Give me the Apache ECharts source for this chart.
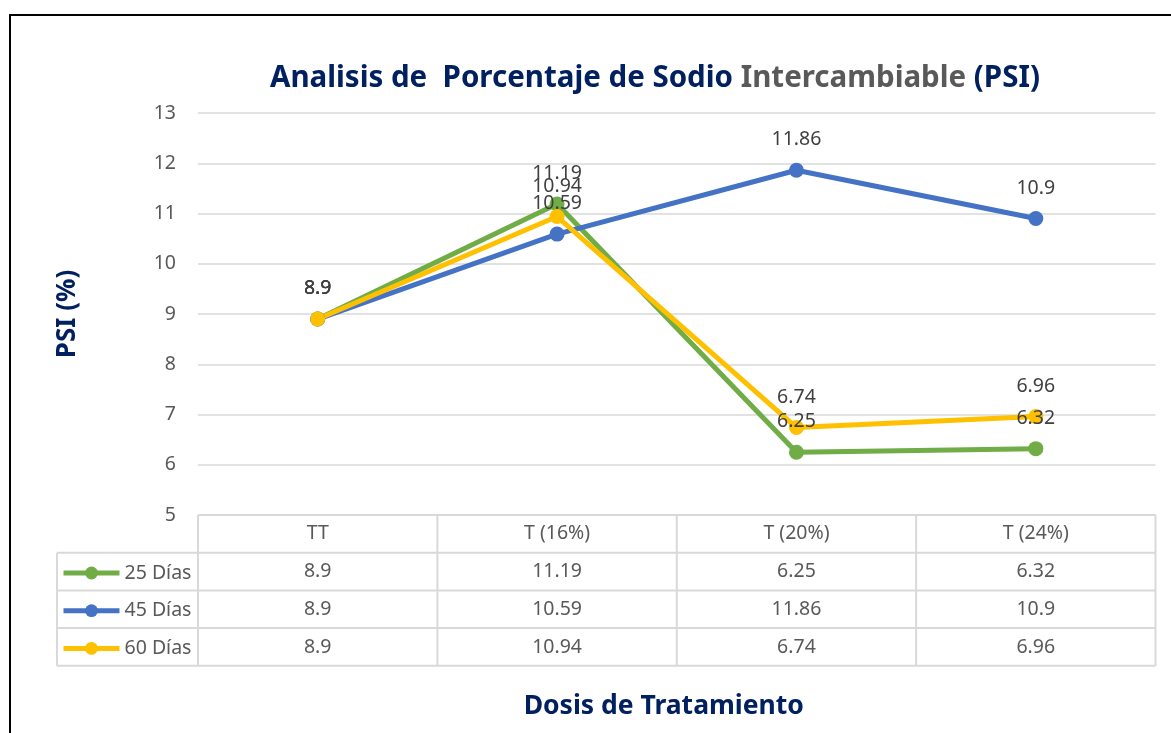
<!DOCTYPE html>
<html>
<head>
<meta charset="utf-8">
<title>PSI</title>
<script src="https://cdn.jsdelivr.net/npm/echarts@6/dist/echarts.min.js"></script>
<style>
  html, body { margin: 0; padding: 0; background: #fff; }
  #chart { width: 1171px; height: 733px; }
</style>
</head>
<body>
<div id="chart"></div>
<script>
// data
const categories = ['TT', 'T (16%)', 'T (20%)', 'T (24%)']
const seriesNames = ['25 Días', '45 Días', '60 Días']
const dias25 = [8.9, 11.19, 6.25, 6.32]
const dias45 = [8.9, 10.59, 11.86, 10.9]
const dias60 = [8.9, 10.94, 6.74, 6.96]
const yMin = 5
const yMax = 13
const yStep = 1

const colors = ['#70AD47', '#4472C4', '#FFC000']
const seriesData = [dias25, dias45, dias60]
const FONT = '"Noto Sans", sans-serif'
const NAVY = '#002060'
const GRAY = '#595959'
const ROW_H = 37.7
const TABLE_LEFT = 57

const chart = echarts.init(document.getElementById('chart'))

const option = {
  animation: false,
  textStyle: { fontFamily: FONT },
  title: {
    left: 270,
    top: 64,
    padding: 0,
    text: '{a|Analisis de  Porcentaje de Sodio }{b|Intercambiable}{a| (PSI)}',
    textStyle: {
      rich: {
        a: { fontFamily: FONT, fontWeight: 'bold', fontSize: 29.5, color: NAVY },
        b: { fontFamily: FONT, fontWeight: 'bold', fontSize: 29.5, color: GRAY }
      }
    }
  },
  grid: { left: 198, right: 15.5, top: 113, bottom: 218 },
  legend: {
    orient: 'vertical',
    left: 56,
    top: 558,
    itemWidth: 56,
    itemHeight: 16,
    itemGap: 17.7,
    selectedMode: false,
    lineStyle: { width: 5 },
    textStyle: { fontFamily: FONT, fontSize: 19.5, color: GRAY, lineHeight: 20 },
    data: seriesNames
  },
  xAxis: {
    type: 'category',
    data: categories,
    axisLine: { show: false },
    axisTick: { show: false },
    axisLabel: { show: false },
    name: 'Dosis de Tratamiento',
    nameLocation: 'middle',
    nameGap: 178,
    nameTextStyle: { fontFamily: FONT, fontWeight: 'bold', fontSize: 26.5, color: NAVY, padding: [0, 26, 0, 0] }
  },
  yAxis: {
    type: 'value',
    min: yMin,
    max: yMax,
    interval: yStep,
    axisLine: { show: false },
    axisTick: { show: false },
    axisLabel: { fontFamily: FONT, fontSize: 19.5, color: GRAY, margin: 22 },
    splitLine: { lineStyle: { color: '#d9d9d9', width: 1.5 } },
    name: 'PSI (%)',
    nameLocation: 'middle',
    nameGap: 117,
    nameTextStyle: { fontFamily: FONT, fontWeight: 'bold', fontSize: 26, color: NAVY }
  },
  series: seriesNames.map((name, i) => ({
    name: name,
    type: 'line',
    data: seriesData[i],
    symbol: 'circle',
    symbolSize: 15,
    lineStyle: { color: colors[i], width: 5 },
    itemStyle: { color: colors[i] },
    label: {
      show: true,
      position: 'top',
      distance: 13,
      fontFamily: FONT,
      fontSize: 19.5,
      color: '#404040'
    }
  }))
}
chart.setOption(option)

// data table under the plot, placed from the axes' own scales
const drawTable = () => {
  const c0 = chart.convertToPixel({ xAxisIndex: 0 }, categories[0])
  const c1 = chart.convertToPixel({ xAxisIndex: 0 }, categories[1])
  const band = c1 - c0
  const left = c0 - band / 2
  const right = left + band * categories.length
  const top = chart.convertToPixel({ yAxisIndex: 0 }, yMin)
  const bottom = top + ROW_H * (seriesNames.length + 1)
  const lineStyle = { stroke: '#d9d9d9', lineWidth: 2 }
  const els = []

  els.push({ type: 'line', shape: { x1: left, y1: top, x2: right, y2: top }, style: lineStyle })
  for (let r = 1; r <= seriesNames.length + 1; r++) {
    const y = top + ROW_H * r
    els.push({ type: 'line', shape: { x1: TABLE_LEFT, y1: y, x2: right, y2: y }, style: lineStyle })
  }
  for (let c = 0; c <= categories.length; c++) {
    const x = left + band * c
    els.push({ type: 'line', shape: { x1: x, y1: top, x2: x, y2: bottom }, style: lineStyle })
  }
  els.push({ type: 'line', shape: { x1: TABLE_LEFT, y1: top + ROW_H, x2: TABLE_LEFT, y2: bottom }, style: lineStyle })

  const cell = (text, x, y) => ({
    type: 'text',
    x: x,
    y: y,
    style: {
      text: String(text),
      fill: GRAY,
      font: '19.5px ' + FONT,
      textAlign: 'center',
      textVerticalAlign: 'middle'
    }
  })
  categories.forEach((cat, c) => {
    const x = chart.convertToPixel({ xAxisIndex: 0 }, cat)
    els.push(cell(cat, x, top + ROW_H / 2))
    seriesData.forEach((vals, r) => {
      els.push(cell(vals[c], x, top + ROW_H * (r + 1.5)))
    })
  })

  // chart frame
  els.push({
    type: 'rect',
    shape: { x: 10, y: 15, width: 1300, height: 900 },
    style: { fill: 'none', stroke: '#000', lineWidth: 2 },
    silent: true
  })

  chart.setOption({ graphic: els })
}
drawTable()
</script>
</body>
</html>
